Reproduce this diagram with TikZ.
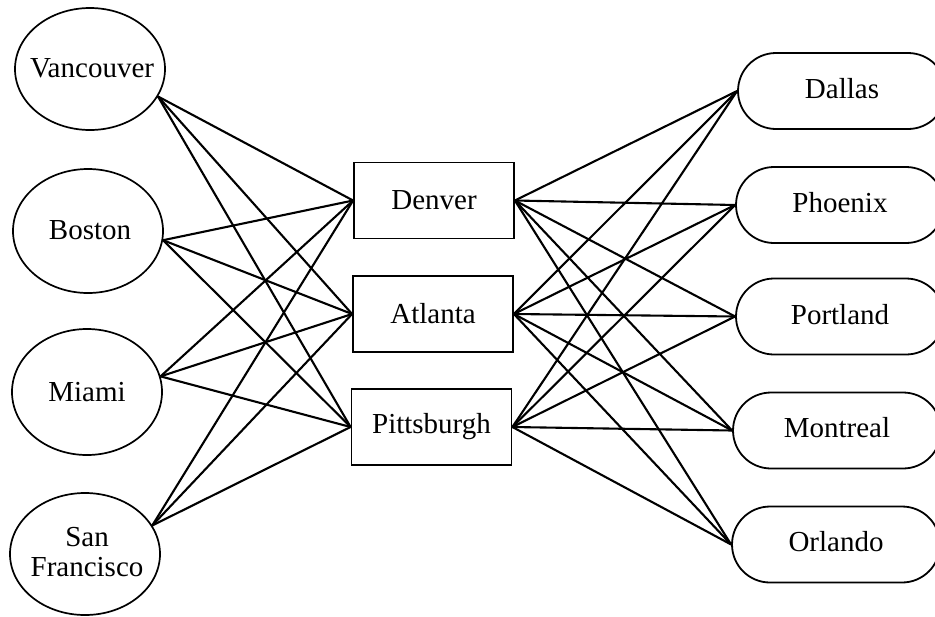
\documentclass[tikz,border=0pt]{standalone}
\usepackage{fontspec}
\setmainfont{Liberation Serif}
\usetikzlibrary{shapes.geometric,shapes.misc}
\begin{document}
\begin{tikzpicture}[x=0.5pt,y=-0.5pt,
  oval/.style={ellipse,draw,line width=0.85pt,inner sep=0pt,minimum width=75pt},
  hub/.style={rectangle,draw,line width=0.9pt,minimum width=80pt,minimum height=38pt,inner sep=0pt,font=\fontsize{14.5}{17}\selectfont},
  pill/.style={rounded rectangle,draw,line width=0.9pt,minimum width=104pt,minimum height=38pt,inner sep=0pt},
  lbl/.style={font=\fontsize{14.5}{15}\selectfont,inner sep=0pt,align=center},
  link/.style={line width=1.05pt}]
\useasboundingbox (0,0) rectangle (935,616);
\clip (0,0) rectangle (935,616);
% left ellipses
\node[oval,minimum height=61pt] (van) at (90,69) {};
\node[oval,minimum height=62pt] (bos) at (88,231) {};
\node[oval,minimum height=63pt] (mia) at (87,392) {};
\node[oval,minimum height=61pt] (sf) at (85,554) {};
\node[lbl] (vant) at (92,68) {Vancouver};
\node[lbl] (bost) at (90,230) {Boston};
\node[lbl] (miat) at (87,392) {Miami};
\node[lbl] (sft) at (87,552) {San\\Francisco};
% middle boxes
\node[hub] (den) at (434,200.5) {Denver};
\node[hub] (atl) at (433,314) {Atlanta};
\node[hub] (pit) at (431.5,427) {Pittsburgh};
% right pills
\node[pill] (dal) at (842,91) {};
\node[pill] (pho) at (840,205) {};
\node[pill] (por) at (840,316.5) {};
\node[pill] (mon) at (837,430.5) {};
\node[pill] (orl) at (836,544.5) {};
\node[lbl] (dalt) at (842,89) {Dallas};
\node[lbl] (phot) at (840,203) {Phoenix};
\node[lbl] (port) at (840,315) {Portland};
\node[lbl] (mont) at (837,428) {Montreal};
\node[lbl] (orlt) at (836,542) {Orlando};
% connectors
\foreach \l/\a in {van/-22,bos/-7,mia/12,sf/23}
  \foreach \h in {den,atl,pit}
    \draw[link] (\l.\a) -- (\h.west);
\foreach \h in {den,atl,pit}
  \foreach \r in {dal,pho,por,mon,orl}
    \draw[link] (\h.east) -- (\r.west);
\end{tikzpicture}
\end{document}
